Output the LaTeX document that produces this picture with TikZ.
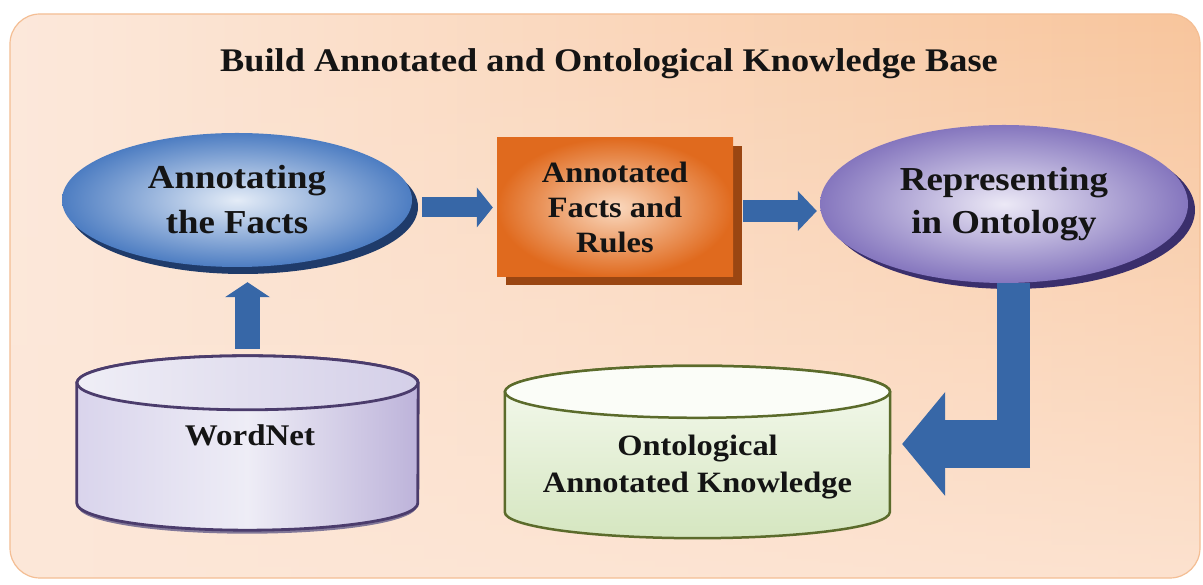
\documentclass[tikz,border=0pt]{standalone}
\usepackage{fontspec}
\setmainfont{Liberation Serif}[FakeStretch=1.1]
\usetikzlibrary{arrows.meta,shapes.geometric,shadows,calc,fadings}

\definecolor{ink}{HTML}{141414}
\definecolor{panelL}{HTML}{FCE9DC}
\definecolor{panelR}{HTML}{F8C59C}
\definecolor{panelLow}{HTML}{FDE7D8}
\definecolor{panelEdge}{HTML}{F4BE94}
\definecolor{annIn}{HTML}{E4ECF7}
\definecolor{annOut}{HTML}{4D7DC2}
\definecolor{annShadow}{HTML}{1F3B6A}
\definecolor{boxIn}{HTML}{FAD9BF}
\definecolor{boxOut}{HTML}{E06A1E}
\definecolor{boxShadow}{HTML}{9A4612}
\definecolor{repIn}{HTML}{ECE9F6}
\definecolor{repOut}{HTML}{8576BE}
\definecolor{repShadow}{HTML}{3A2F6C}
\definecolor{wnL}{HTML}{D9D4EC}
\definecolor{wnM}{HTML}{EEEDF6}
\definecolor{wnR}{HTML}{BDB3DA}
\definecolor{wnTopL}{HTML}{EFEEF6}
\definecolor{wnTopR}{HTML}{D4CFE8}
\definecolor{wnEdge}{HTML}{4B3C6C}
\definecolor{okTop}{HTML}{F6FAF0}
\definecolor{okBot}{HTML}{D5E6C0}
\definecolor{okCap}{HTML}{FBFDF8}
\definecolor{okEdge}{HTML}{5B6B2B}
\definecolor{arrowBlue}{HTML}{3767A7}

\tikzset{
  stagetext/.style={text=ink, align=center, inner sep=0pt},
  procell/.style={ellipse, stagetext},
  flowline/.style={draw=arrowBlue, line cap=butt},
  dbframe/.style={inner sep=0pt},
}

\begin{document}
\begin{tikzpicture}[x=1pt,y=1pt]
\useasboundingbox (0,0) rectangle (1203,585);
\fill[white] (0,0) rectangle (1203,585);

% background panel
\shade[rounded corners=30pt, left color=panelL, right color=panelR] (10,7) rectangle (1200,571);
\fill[rounded corners=30pt, panelLow, path fading=north, fill opacity=0.85] (10,7) rectangle (1200,571);
\draw[rounded corners=30pt, panelEdge, line width=1.2pt] (10,7) rectangle (1200,571);

% title
\node[stagetext, anchor=base, font=\fontsize{33}{40}\selectfont\bfseries] (title) at (609,513)
  {Build Annotated and Ontological Knowledge Base};

% process stages
\node[procell, minimum width=350pt, minimum height=134pt,
      inner color=annIn, outer color=annOut,
      drop shadow={shadow xshift=6pt, shadow yshift=-7pt, fill=annShadow, opacity=1},
      font=\fontsize{33.5}{45}\selectfont\bfseries] (ann) at (237,385) {Annotating\\the Facts};

\node[rectangle, stagetext, minimum width=236pt, minimum height=139pt,
      inner color=boxIn, outer color=boxOut,
      drop shadow={shadow xshift=9pt, shadow yshift=-8pt, fill=boxShadow, opacity=1},
      font=\fontsize{29.5}{35}\selectfont\bfseries] (facts) at (615,377.5) {Annotated\\Facts and\\Rules};

\node[procell, minimum width=368pt, minimum height=158pt,
      inner color=repIn, outer color=repOut,
      drop shadow={shadow xshift=7pt, shadow yshift=-6pt, fill=repShadow, opacity=1},
      font=\fontsize{33.5}{43}\selectfont\bfseries] (rep) at (1004,381) {Representing\\in Ontology};

% WordNet store
\node[dbframe, minimum width=341pt, minimum height=174pt] (wn) at (247.5,142) {};
\draw[wnEdge!70, line width=3pt]
  ($(wn.south west)+(2,25)$) arc[start angle=180, end angle=360, x radius=168.5, y radius=27];
\path[draw=wnEdge, line width=2.8pt, left color=wnL, right color=wnR, middle color=wnM]
  ($(wn.north west)+(0,-27)$) -- ($(wn.south west)+(0,27)$)
  arc[start angle=180, end angle=360, x radius=170.5, y radius=27]
  -- ($(wn.north east)+(0,-27)$)
  arc[start angle=0, end angle=180, x radius=170.5, y radius=27] -- cycle;
\path[draw=wnEdge, line width=2.8pt, left color=wnTopL, right color=wnTopR]
  ($(wn.north)+(0,-27)$) ellipse[x radius=170.5, y radius=27];
\node[stagetext, font=\fontsize{30}{36}\selectfont\bfseries] (wnlabel) at ($(wn.center)+(2.5,8)$) {WordNet};

% ontological knowledge store
\node[dbframe, minimum width=385pt, minimum height=172pt] (ok) at (697.5,133) {};
\path[draw=okEdge, line width=2.5pt, top color=okTop, bottom color=okBot]
  ($(ok.north west)+(0,-26)$) -- ($(ok.south west)+(0,26)$)
  arc[start angle=180, end angle=360, x radius=192.5, y radius=26]
  -- ($(ok.north east)+(0,-26)$)
  arc[start angle=0, end angle=180, x radius=192.5, y radius=26] -- cycle;
\path[draw=okEdge, line width=2.5pt, fill=okCap]
  ($(ok.north)+(0,-26)$) ellipse[x radius=192.5, y radius=26];
\node[stagetext, font=\fontsize{29.5}{37}\selectfont\bfseries] (oklabel) at ($(ok.center)+(0,-15)$)
  {Ontological\\Annotated Knowledge};

% flow arrows
\draw[flowline, line width=25pt, -{Triangle[width=45pt, length=15pt, line width=0pt]},
      shorten <=7pt, shorten >=15pt] (wn.north) -- (wn.north |- ann.south);
\draw[flowline, line width=20pt, -{Triangle[width=40pt, length=16pt, line width=0pt]},
      shorten <=10pt, shorten >=4pt] (ann.east |- facts.west) -- (facts.west);
\draw[flowline, line width=22pt, -{Triangle[width=40pt, length=19pt, line width=0pt]},
      shorten <=10pt, shorten >=3pt] ($(facts.east)+(0,-3.5)$) -- ($(facts.east -| rep.west)+(0,-3.5)$);

\coordinate (bend) at (1013.5,141);
\draw[flowline, line width=33pt] (bend |- rep.south) -- ($(bend)+(0,-24)$);
\draw[flowline, line width=48pt, -{Triangle[width=104pt, length=43pt, line width=0pt]},
      shorten >=12pt] ($(bend)+(16.5,0)$) -- (ok.east |- bend);
\end{tikzpicture}
\end{document}
